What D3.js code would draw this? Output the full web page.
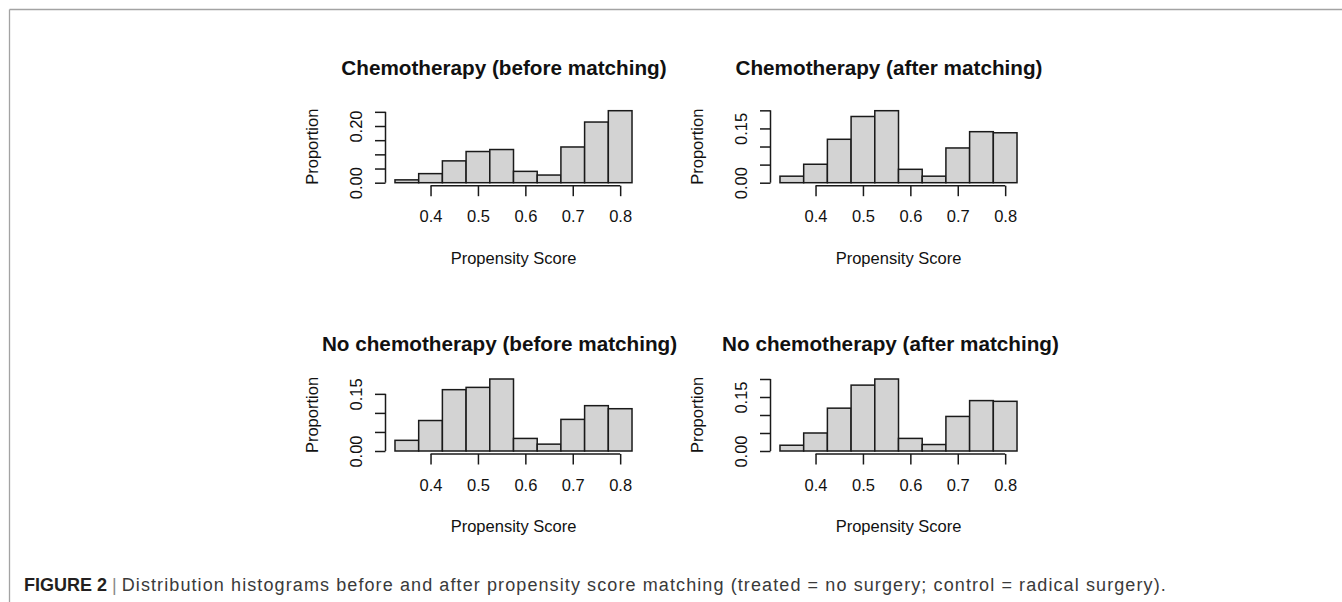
<!DOCTYPE html>
<html>
<head>
<meta charset="utf-8">
<script src="https://cdn.jsdelivr.net/npm/d3@7"></script>
<style>
  body { margin: 0; background: #fff; }
  svg { display: block; font-family: "Liberation Sans", Arial, sans-serif; }
</style>
</head>
<body>
<div id="chart"></div>
<script>
/* Propensity score histograms, 2x2 panels */

const binEdges = [0.325, 0.375, 0.425, 0.475, 0.525, 0.575, 0.625, 0.675, 0.725, 0.775, 0.825];
const xTicks = [0.4, 0.5, 0.6, 0.7, 0.8];

const titles = [
    "Chemotherapy (before matching)",
    "Chemotherapy (after matching)",
    "No chemotherapy (before matching)",
    "No chemotherapy (after matching)"
];

// proportion per bin
const chemoBefore   = [0.010, 0.032, 0.077, 0.110, 0.117, 0.040, 0.027, 0.126, 0.214, 0.254];
const chemoAfter    = [0.018, 0.051, 0.120, 0.183, 0.199, 0.037, 0.018, 0.096, 0.141, 0.138];
const noChemoBefore = [0.028, 0.080, 0.161, 0.167, 0.189, 0.033, 0.018, 0.083, 0.119, 0.111];
const noChemoAfter  = [0.016, 0.050, 0.119, 0.183, 0.200, 0.035, 0.018, 0.096, 0.140, 0.138];

const yTicks = [
    [0, 0.05, 0.10, 0.15, 0.20, 0.25],
    [0, 0.05, 0.10, 0.15, 0.20],
    [0, 0.05, 0.10, 0.15],
    [0, 0.05, 0.10, 0.15, 0.20]
];
// R drops overlapping labels, only these are printed
const yLabels = [[0, 0.20], [0, 0.15], [0, 0.15], [0, 0.15]];

const xLabel = "Propensity Score",
      yLabel = "Proportion";

const series = [chemoBefore, chemoAfter, noChemoBefore, noChemoAfter];

const width = 1342,
      height = 602;

const panelLeft = [385.5, 770.5],   // left edge of each plot region
      panelZero = [182.7, 451],     // y of zero line per row
      plotW = 256,
      barH = 72,
      titleShift = [[-9.5, -9.5], [-14, -8]],
      titleY = [75, 351];

const svg = d3.select("#chart")
    .append("svg")
    .attr("width", width)
    .attr("height", height)
    .attr("viewBox", [0, 0, width, height]);

// frame of the figure
svg.append("line")
    .attr("x1", 9.5).attr("x2", width)
    .attr("y1", 9.5).attr("y2", 9.5)
    .attr("stroke", "#a3a3a3").attr("stroke-width", 1.3);
svg.append("line")
    .attr("x1", 9.5).attr("x2", 9.5)
    .attr("y1", 9.5).attr("y2", height)
    .attr("stroke", "#a3a3a3").attr("stroke-width", 1.3);

series.forEach((values, i) => {
    const col = i % 2,
          row = Math.floor(i / 2);
    const left = panelLeft[col],
          zero = panelZero[row];

    const x = d3.scaleLinear()
        .domain([0.305, 0.845])
        .range([left, left + plotW]);

    const y = d3.scaleLinear()
        .domain([0, d3.max(values)])
        .range([zero, zero - barH]);

    const bins = values.map((v, j) => ({x0: binEdges[j], x1: binEdges[j + 1], v: v}));

    const g = svg.append("g");

    g.selectAll("rect")
        .data(bins)
        .join("rect")
        .attr("x", d => x(d.x0))
        .attr("width", d => x(d.x1) - x(d.x0))
        .attr("y", d => y(d.v))
        .attr("height", d => y(0) - y(d.v))
        .attr("fill", "#d3d3d3")
        .attr("stroke", "#1a1a1a")
        .attr("stroke-width", 1.5);

    // x axis (line only between first and last tick)
    const xAxis = g.append("g")
        .attr("transform", `translate(0,${zero + 3})`)
        .call(d3.axisBottom(x).tickValues(xTicks).tickSize(10.5).tickPadding(14.5).tickFormat(d3.format(".1f")));
    xAxis.select(".domain").remove();
    xAxis.append("line")
        .attr("x1", x(xTicks[0])).attr("x2", x(xTicks[xTicks.length - 1]))
        .attr("stroke", "#1a1a1a").attr("stroke-width", 1.5);

    // y axis
    const labels = yLabels[i];
    const yAxis = g.append("g")
        .attr("transform", `translate(${left},0)`)
        .call(d3.axisLeft(y).tickValues(yTicks[i]).tickSize(10.5)
            .tickFormat(d => labels.some(l => Math.abs(l - d) < 1e-9) ? d3.format(".2f")(d) : ""));
    yAxis.select(".domain").remove();
    const yt = yTicks[i];
    yAxis.append("line")
        .attr("y1", y(yt[0])).attr("y2", y(yt[yt.length - 1]))
        .attr("stroke", "#1a1a1a").attr("stroke-width", 1.5);
    yAxis.selectAll(".tick text")
        .attr("transform", "rotate(-90)")
        .attr("x", 0).attr("y", -24).attr("dy", 0)
        .attr("text-anchor", "middle");

    [xAxis, yAxis].forEach(a => {
        a.selectAll(".tick line").attr("stroke", "#1a1a1a").attr("stroke-width", 1.5);
        a.selectAll(".tick text")
            .attr("fill", "#111")
            .style("font-size", "16.5px")
            .style("font-family", "'Liberation Sans', Arial, sans-serif");
    });

    // labels
    g.append("text")
        .attr("x", left + plotW / 2)
        .attr("y", zero + 81)
        .attr("text-anchor", "middle")
        .attr("fill", "#111")
        .style("font-size", "16.5px")
        .text(xLabel);

    g.append("text")
        .attr("transform", `translate(${left - 68},${zero - barH / 2}) rotate(-90)`)
        .attr("text-anchor", "middle")
        .attr("fill", "#111")
        .style("font-size", "16.5px")
        .text(yLabel);

    g.append("text")
        .attr("x", left + plotW / 2 + titleShift[row][col])
        .attr("y", titleY[row])
        .attr("text-anchor", "middle")
        .attr("fill", "#111")
        .style("font-size", "20.7px")
        .style("font-weight", "bold")
        .text(titles[i]);
});

// caption
const cap = svg.append("text")
    .attr("x", 24)
    .attr("y", 591)
    .style("font-size", "18px");
cap.append("tspan")
    .attr("font-weight", "bold")
    .attr("fill", "#231f20")
    .text("FIGURE 2");
cap.append("tspan")
    .attr("fill", "#8a8a8a")
    .text(" | ");
cap.append("tspan")
    .attr("fill", "#3a3a3a")
    .style("letter-spacing", "1.1px")
    .text("Distribution histograms before and after propensity score matching (treated = no surgery; control = radical surgery).");
</script>
</body>
</html>
